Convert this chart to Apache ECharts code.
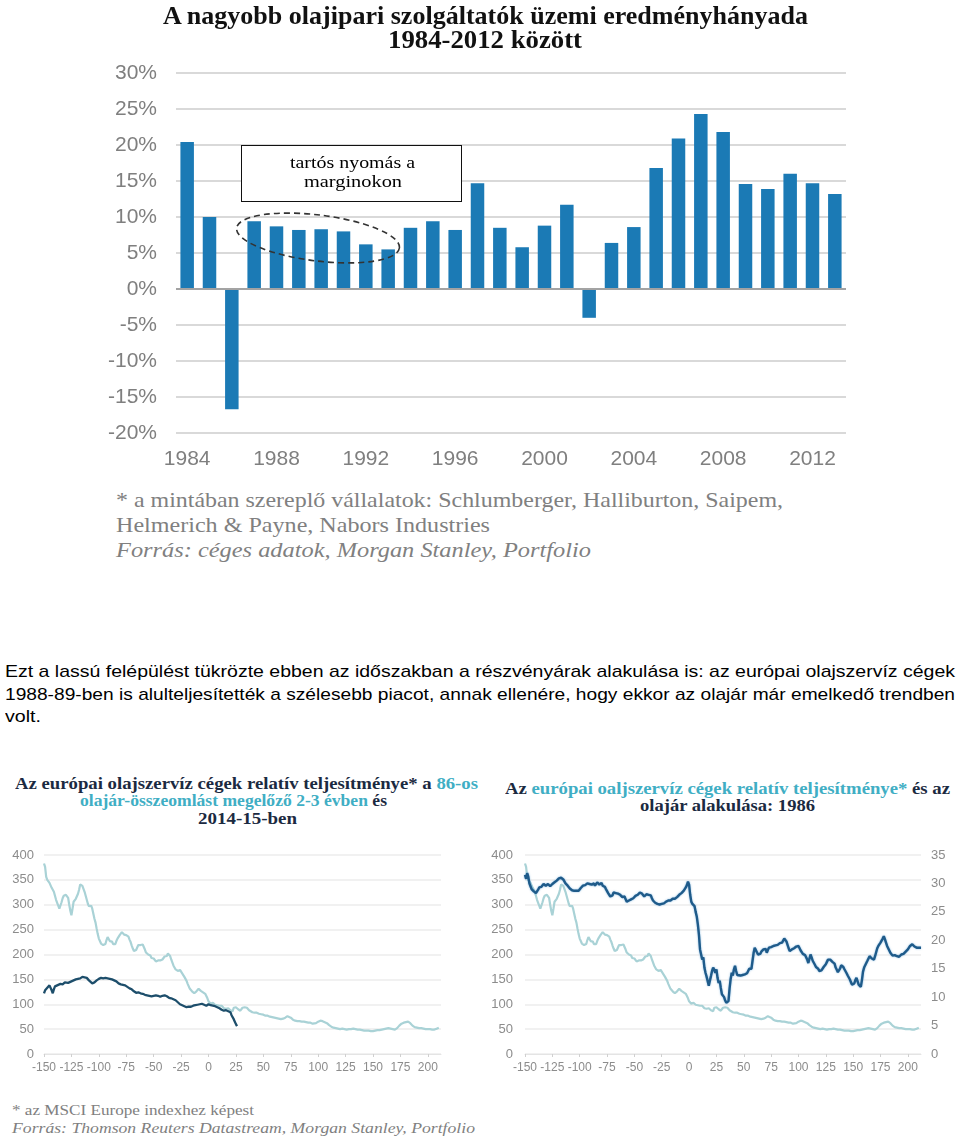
<!DOCTYPE html>
<html><head><meta charset="utf-8">
<script src="https://cdn.jsdelivr.net/npm/echarts@6/dist/echarts.min.js"></script>
<style>
html,body{margin:0;padding:0;background:#fff;width:960px;height:1136px;overflow:hidden;position:relative}
.c{position:absolute}
.t{position:absolute;white-space:nowrap;transform-origin:0 50%;}
</style></head><body>
<div id="bar" class="c" style="left:0;top:0;width:960px;height:480px"></div>
<div id="lc" class="c" style="left:0;top:830px;width:480px;height:260px"></div>
<div id="rc" class="c" style="left:480px;top:830px;width:480px;height:260px"></div>
<svg class="c" style="left:0;top:0" width="960" height="480"><ellipse cx="318" cy="238" rx="82" ry="23" transform="rotate(7 318 238)" fill="none" stroke="#333" stroke-width="1.6" stroke-dasharray="6 4"/></svg>
<div class="c" style="left:241px;top:145px;width:221px;height:57px;box-sizing:border-box;border:1.5px solid #111;background:#fff"></div>
<div id="texts"></div>
<script>
// ---------- DATA ----------
const years = ['1984','1985','1986','1987','1988','1989','1990','1991','1992','1993','1994','1995','1996','1997','1998','1999','2000','2001','2002','2003','2004','2005','2006','2007','2008','2009','2010','2011','2012','2013'];
const marginPct = [20.4,10.0,-16.7,9.4,8.7,8.2,8.3,8.0,6.2,5.5,8.5,9.4,8.2,14.7,8.5,5.8,8.8,11.7,-4.0,6.4,8.6,16.8,20.9,24.3,21.8,14.6,13.9,16.0,14.7,13.2];

// relative performance of European oil service firms before the 1986 crash (day, index)
const rel1986 = [[-150,383],[-149,376],[-148,356],[-147,350],[-146,347],[-145,344],[-144,340],[-143,334],[-142,330],[-141,326],[-140,318],[-139,310],[-138,304],[-137,298],[-136,292],[-135,296],[-134,305],[-133,313],[-132,318],[-131,322],[-130,320],[-129,323],[-128,314],[-127,300],[-126,288],[-125,279],[-124,292],[-123,306],[-122,309],[-121,312],[-120,316],[-119,322],[-118,330],[-117,341],[-116,343],[-115,338],[-114,334],[-113,326],[-112,318],[-111,310],[-110,302],[-109,297],[-108,301],[-107,298],[-106,292],[-105,282],[-104,272],[-103,264],[-102,252],[-101,241],[-100,232],[-99,227],[-98,222],[-97,225],[-96,219],[-95,215],[-94,221],[-93,229],[-92,235],[-91,231],[-90,227],[-89,223],[-88,226],[-87,221],[-86,217],[-85,221],[-84,227],[-83,232],[-82,236],[-81,239],[-80,242],[-79,245],[-78,244],[-77,240],[-76,243],[-75,239],[-74,240],[-73,236],[-72,230],[-71,225],[-70,218],[-69,212],[-68,207],[-67,204],[-66,209],[-65,214],[-64,219],[-63,222],[-62,219],[-61,223],[-60,220],[-59,215],[-58,210],[-57,204],[-56,206],[-55,200],[-54,196],[-53,198],[-52,193],[-51,190],[-50,192],[-49,188],[-48,186],[-47,183],[-46,188],[-45,185],[-44,188],[-43,186],[-42,190],[-41,193],[-40,196],[-39,200],[-38,197],[-37,202],[-36,204],[-35,197],[-34,190],[-33,184],[-32,178],[-31,174],[-30,170],[-29,172],[-28,167],[-27,165],[-26,169],[-25,166],[-24,162],[-23,159],[-22,155],[-21,151],[-20,147],[-19,141],[-18,136],[-17,131],[-16,128],[-15,126],[-14,124],[-13,122],[-12,124],[-11,126],[-10,128],[-9,131],[-8,130],[-7,127],[-6,126],[-5,124],[-4,124],[-3,121],[-2,117],[-1,112],[0,106],[1,103],[2,101],[3,104],[4,103],[5,100],[6,99],[7,101],[8,98],[9,96],[10,97],[11,95],[12,97],[13,94],[14,92],[15,93],[16,91],[17,94],[18,92],[19,89],[20,88],[21,85],[22,86],[23,93],[24,97],[25,94],[26,92],[27,90],[28,88],[29,87],[30,90],[31,93],[32,95],[33,94],[34,92],[35,93],[36,90],[37,88],[38,86],[40,84],[42,83],[44,83],[46,81],[48,80],[50,79],[52,77],[54,77],[56,75],[58,74],[60,73],[62,72],[64,71],[66,70],[68,71],[70,73],[72,76],[73,77],[75,73],[77,69],[79,67],[81,66],[83,66],[85,65],[87,65],[89,64],[91,63],[93,63],[95,61],[96,60],[98,62],[100,65],[102,67],[104,66],[106,64],[108,62],[110,58],[112,55],[114,53],[116,52],[118,51],[120,50],[122,51],[124,50],[126,49],[128,50],[130,50],[132,51],[134,50],[136,49],[138,49],[140,48],[142,47],[144,47],[146,47],[148,46],[150,46],[152,47],[154,48],[156,48],[158,49],[160,50],[162,51],[164,52],[166,51],[168,50],[170,49],[172,52],[174,57],[176,61],[178,63],[180,64],[182,65],[184,62],[186,57],[188,54],[190,53],[192,52],[194,52],[196,51],[198,50],[200,50],[202,50],[204,49],[206,49],[208,51],[210,53]];

// relative performance 2014-15 (day, index)
const rel2014 = [[-150,122],[-149,128],[-148,131],[-147,133],[-146,136],[-145,138],[-144,134],[-143,128],[-142,122],[-141,130],[-140,136],[-139,138],[-137,139],[-135,141],[-133,140],[-131,144],[-130,145],[-128,143],[-127,141],[-125,146],[-123,148],[-121,150],[-119,151],[-117,152],[-115,155],[-113,154],[-111,153],[-110,150],[-109,148],[-108,146],[-106,142],[-105,140],[-104,144],[-102,148],[-100,151],[-98,153],[-96,152],[-94,153],[-92,152],[-90,151],[-88,150],[-86,148],[-84,146],[-82,142],[-80,140],[-78,139],[-76,138],[-74,135],[-72,132],[-70,130],[-68,126],[-66,123],[-64,124],[-62,122],[-60,121],[-58,119],[-56,118],[-54,117],[-52,116],[-50,117],[-48,118],[-46,117],[-44,115],[-42,117],[-40,118],[-38,116],[-36,113],[-34,112],[-32,110],[-30,108],[-28,104],[-26,100],[-24,98],[-22,96],[-20,94],[-18,95],[-16,95],[-14,97],[-12,98],[-10,99],[-8,100],[-6,101],[-4,99],[-2,97],[0,100],[2,98],[4,97],[6,96],[8,94],[10,92],[12,89],[14,87],[16,88],[18,86],[20,84],[21,78],[22,76],[23,70],[24,65],[25,60],[26,56]];

// oil price 1986 (day, USD) – right axis
const oil1986 = [[-150,31.5],[-149,30.8],[-148,31.8],[-147,31.2],[-146,30.0],[-145,29.5],[-144,29.0],[-143,28.8],[-142,28.6],[-141,28.4],[-140,28.3],[-139,28.5],[-138,28.9],[-137,29.3],[-136,29.6],[-135,29.4],[-134,29.5],[-133,29.9],[-132,29.7],[-131,29.6],[-130,29.8],[-129,29.9],[-128,29.6],[-127,29.5],[-126,29.7],[-125,29.9],[-124,30.1],[-123,30.2],[-122,30.3],[-121,30.5],[-120,30.7],[-119,30.9],[-118,31.1],[-117,31.0],[-116,30.8],[-115,30.7],[-114,30.4],[-113,30.0],[-112,29.8],[-111,29.6],[-110,29.4],[-109,29.1],[-108,28.9],[-107,28.8],[-106,28.8],[-105,28.7],[-104,28.6],[-103,28.7],[-102,28.6],[-101,28.7],[-100,28.9],[-99,29.2],[-98,29.4],[-97,29.6],[-96,29.3],[-95,29.7],[-94,29.9],[-93,30.0],[-92,29.7],[-91,29.9],[-90,30.1],[-89,29.8],[-88,29.8],[-87,30.0],[-86,29.6],[-85,29.9],[-84,30.2],[-83,30.3],[-82,29.8],[-81,29.9],[-80,30.1],[-79,29.6],[-78,29.8],[-77,29.4],[-76,29.0],[-75,28.7],[-74,28.3],[-73,28.0],[-72,27.7],[-71,27.4],[-70,27.9],[-69,28.4],[-68,28.6],[-67,28.3],[-66,28.1],[-65,28.2],[-64,28.0],[-63,28.0],[-62,27.9],[-61,27.6],[-60,27.8],[-59,27.7],[-58,27.2],[-57,26.8],[-56,26.5],[-55,27.0],[-54,27.3],[-53,27.2],[-52,27.5],[-51,27.4],[-50,27.6],[-49,27.8],[-48,28.0],[-47,28.0],[-46,28.3],[-45,28.4],[-44,28.6],[-43,28.2],[-42,27.9],[-41,27.7],[-40,27.9],[-39,28.1],[-38,28.3],[-37,28.0],[-36,28.3],[-35,27.9],[-34,27.4],[-33,27.0],[-32,26.8],[-31,26.6],[-30,26.5],[-29,26.4],[-28,26.3],[-27,26.3],[-26,26.1],[-25,26.4],[-24,26.5],[-23,26.5],[-22,26.6],[-21,26.8],[-20,26.9],[-19,27.0],[-18,27.1],[-17,27.0],[-16,27.2],[-15,27.3],[-14,27.4],[-13,27.3],[-12,27.5],[-11,27.6],[-10,27.8],[-9,28.0],[-8,28.1],[-7,28.3],[-6,28.5],[-5,28.7],[-4,28.9],[-3,29.3],[-2,29.7],[-1,30.3],[0,29.8],[1,28.0],[2,26.8],[3,26.4],[4,26.2],[5,26.0],[6,25.0],[7,24.2],[8,22.8],[9,21.0],[10,18.4],[11,17.5],[12,16.6],[13,17.0],[14,15.2],[15,14.3],[16,13.6],[17,12.8],[18,12.0],[19,12.9],[20,13.7],[21,14.6],[22,15.2],[23,14.8],[24,14.3],[25,14.9],[26,13.4],[27,12.5],[28,12.9],[29,11.6],[30,10.5],[31,10.8],[32,10.0],[33,9.4],[34,9.0],[35,8.8],[36,9.3],[37,11.5],[38,13.2],[39,14.3],[40,13.8],[41,14.9],[42,15.5],[43,14.6],[44,13.9],[45,13.7],[47,13.8],[49,13.9],[51,14.0],[53,14.2],[55,15.0],[56,15.2],[57,15.0],[58,16.4],[59,17.8],[60,18.7],[61,18.3],[62,17.9],[63,17.5],[64,17.3],[65,17.6],[66,18.0],[67,17.9],[68,18.4],[69,18.2],[70,18.5],[71,17.8],[72,18.3],[73,18.7],[75,18.8],[77,19.0],[79,19.1],[81,19.2],[83,19.5],[85,19.6],[86,19.9],[87,20.3],[88,20.4],[89,19.8],[90,19.2],[91,18.6],[92,18.1],[93,18.1],[94,18.4],[95,18.5],[96,18.6],[97,18.7],[98,18.9],[99,19.1],[100,19.0],[101,18.6],[102,18.2],[103,17.9],[104,17.6],[105,17.3],[106,17.4],[107,17.2],[108,16.6],[109,16.0],[110,16.2],[111,17.5],[112,17.0],[113,16.4],[114,16.1],[115,15.7],[116,15.3],[117,15.5],[118,15.0],[119,14.6],[120,14.3],[121,14.7],[122,15.0],[123,15.3],[124,15.6],[125,15.8],[126,16.2],[127,16.6],[128,16.9],[129,16.6],[130,16.3],[131,16.2],[132,16.3],[133,15.9],[134,15.2],[135,14.8],[136,14.4],[137,14.3],[138,15.0],[139,15.6],[140,15.8],[141,15.3],[142,14.9],[143,14.6],[144,14.2],[145,13.8],[146,13.5],[147,13.1],[148,12.6],[149,12.2],[150,12.0],[151,12.4],[152,13.0],[153,13.4],[154,12.8],[155,12.2],[156,12.0],[157,11.8],[158,13.0],[159,14.5],[160,15.2],[161,15.6],[162,16.0],[163,16.4],[164,16.8],[165,17.2],[166,17.0],[167,16.8],[168,16.6],[169,16.6],[170,17.2],[171,17.9],[172,18.6],[173,19.0],[174,19.3],[175,19.6],[176,19.9],[177,20.3],[178,20.7],[179,20.2],[180,19.6],[181,19.0],[182,18.6],[183,18.2],[184,17.8],[185,17.5],[186,17.3],[187,17.2],[188,17.4],[189,17.2],[190,17.2],[191,17.0],[192,17.1],[193,17.3],[194,17.5],[195,17.5],[196,17.6],[197,17.9],[198,18.0],[199,18.1],[200,18.4],[201,18.7],[202,19.0],[203,19.2],[204,19.3],[205,19.1],[206,18.9],[207,18.8],[208,18.7],[209,18.5],[210,18.7],[211,18.6],[212,18.7]];

// ---------- TOP BAR CHART ----------
const SANS = 'Liberation Sans, Arial, sans-serif';
const bar = echarts.init(document.getElementById('bar'), null, {renderer:'canvas'});
bar.setOption({
  animation:false,
  grid:{left:176, top:73, width:670, height:360},
  xAxis:{type:'category', data:years, axisLine:{show:false}, axisTick:{show:false},
    axisLabel:{interval:3, color:'#7f7f7f', fontSize:21, margin:16, fontFamily:SANS}},
  yAxis:{type:'value', min:-20, max:30, interval:5,
    axisLabel:{formatter:'{value}%', color:'#7f7f7f', fontSize:21, margin:19, fontFamily:SANS},
    axisLine:{show:false}, axisTick:{show:false},
    splitLine:{lineStyle:{color:'#d9d9d9', width:2}}},
  series:[{type:'bar', data:marginPct, barWidth:13.5, itemStyle:{color:'#1b7ab5'},
    markLine:{silent:true, symbol:'none', label:{show:false},
      lineStyle:{color:'#a3a3a3', width:2, type:'solid'}, data:[{yAxis:0}]}}]
});

// ---------- LINE CHARTS ----------
function xAxisCfg(){
  return {type:'value', min:-150, max:212, interval:25,
    axisLabel:{color:'#8c8c8c', fontSize:12, margin:8, showMaxLabel:false, fontFamily:SANS},
    axisLine:{show:true, onZero:false, lineStyle:{color:'#e4e4e4'}},
    axisTick:{show:true, length:3, lineStyle:{color:'#d0d0d0'}},
    splitLine:{show:false}};
}
function yLeft(){
  return {type:'value', min:0, max:400, interval:50,
    axisLabel:{color:'#8c8c8c', fontSize:13, margin:10, fontFamily:SANS},
    axisLine:{show:false}, axisTick:{show:false},
    splitLine:{lineStyle:{color:'#ececec', width:1.5}}};
}
const vline = {silent:true, symbol:'none', label:{show:false},
  lineStyle:{color:'#222', width:2, type:'solid'},
  data:[[{coord:[0,0]},{coord:[0,414]}]]};

const lc = echarts.init(document.getElementById('lc'));
lc.setOption({
  animation:false,
  grid:{left:44, top:25, width:397, height:199},
  xAxis:xAxisCfg(), yAxis:yLeft(),
  series:[
    {type:'line', data:rel1986, showSymbol:false, clip:false, lineStyle:{color:'#a9d2d6', width:2.2}, markLine:vline, z:2},
    {type:'line', data:rel2014, showSymbol:false, lineStyle:{color:'#1d4e6b', width:2.3}, z:3}
  ]
});

const rc = echarts.init(document.getElementById('rc'));
rc.setOption({
  animation:false,
  grid:{left:45, top:25, width:396, height:199},
  xAxis:xAxisCfg(),
  yAxis:[Object.assign(yLeft(), {axisLabel:{color:'#8c8c8c', fontSize:13, margin:12, fontFamily:SANS}}),
    {type:'value', min:0, max:35, interval:5, position:'right',
     axisLabel:{color:'#8c8c8c', fontSize:13, margin:10, fontFamily:SANS},
     axisLine:{show:false}, axisTick:{show:false}, splitLine:{show:false}}],
  series:[
    {type:'line', data:rel1986, yAxisIndex:0, showSymbol:false, clip:false, lineStyle:{color:'#a9d2d6', width:2.2}, markLine:vline, z:2},
    {type:'line', data:oil1986, yAxisIndex:1, showSymbol:false,
     lineStyle:{color:'#1f5b8a', width:2.4, shadowColor:'rgba(40,130,200,0.55)', shadowBlur:2}, z:3}
  ]
});

// ---------- TEXT ----------
const SERIF = 'Liberation Serif, DejaVu Serif, serif';
const DARK = '#1b2a41', TEAL = '#40aec4', GREY = '#808080';
const lines = [
  {h:'A nagyobb olajipari szolgáltatók üzemi eredményhányada', x:163, cy:16, w:645, s:25, b:1, c:'#111', f:SERIF},
  {h:'1984-2012 között', x:388, cy:40, w:194, s:25, b:1, c:'#111', f:SERIF},
  {h:'tartós nyomás a', x:290, cy:163, w:125, s:17, c:'#000', f:SERIF},
  {h:'marginokon', x:304, cy:182, w:98, s:17, c:'#000', f:SERIF},
  {h:'* a mintában szereplő vállalatok: Schlumberger, Halliburton, Saipem,', x:116, cy:500, w:667, s:21, c:GREY, f:SERIF},
  {h:'Helmerich &amp; Payne, Nabors Industries', x:116, cy:525, w:374, s:21, c:GREY, f:SERIF},
  {h:'Forrás: céges adatok, Morgan Stanley, Portfolio', x:116, cy:550, w:475, s:21, c:GREY, f:SERIF, i:1},
  {h:'Ezt a lassú felépülést tükrözte ebben az időszakban a részvényárak alakulása is: az európai olajszervíz cégek', x:5, cy:672, w:950, s:17, c:'#000', f:SANS},
  {h:'1988-89-ben is alulteljesítették a szélesebb piacot, annak ellenére, hogy ekkor az olajár már emelkedő trendben', x:5, cy:695, w:950, s:17, c:'#000', f:SANS},
  {h:'volt.', x:5, cy:717, w:36, s:17, c:'#000', f:SANS},
  {h:'Az európai olajszervíz cégek relatív teljesítménye* a <span style="color:'+TEAL+'">86-os</span>', x:15, cy:783, w:463, s:16, b:1, c:DARK, f:SERIF},
  {h:'<span style="color:'+TEAL+'">olajár-összeomlást megelőző 2-3 évben</span> és', x:80, cy:800, w:307, s:16, b:1, c:DARK, f:SERIF},
  {h:'2014-15-ben', x:198, cy:818, w:99, s:16, b:1, c:DARK, f:SERIF},
  {h:'Az <span style="color:'+TEAL+'">európai oaljszervíz cégek relatív teljesítménye*</span> és az', x:505, cy:788, w:445, s:16, b:1, c:DARK, f:SERIF},
  {h:'olajár alakulása: 1986', x:640, cy:805, w:175, s:16, b:1, c:DARK, f:SERIF},
  {h:'* az MSCI Europe indexhez képest', x:12, cy:1110, w:242, s:15, c:GREY, f:SERIF},
  {h:'Forrás: Thomson Reuters Datastream, Morgan Stanley, Portfolio', x:12, cy:1128, w:463, s:15, c:GREY, f:SERIF, i:1}
];
const holder = document.getElementById('texts');
lines.forEach(L => {
  const d = document.createElement('div');
  d.className = 't';
  const lh = Math.round(L.s*1.2);
  d.style.cssText += `left:${L.x}px;top:${L.cy - lh/2}px;line-height:${lh}px;font-size:${L.s}px;font-family:${L.f};color:${L.c};font-weight:${L.b?'bold':'normal'};font-style:${L.i?'italic':'normal'};`;
  d.innerHTML = L.h;
  holder.appendChild(d);
  const wNow = d.getBoundingClientRect().width;
  if (wNow > 0) d.style.transform = `scaleX(${L.w / wNow})`;
});
</script>
</body></html>
